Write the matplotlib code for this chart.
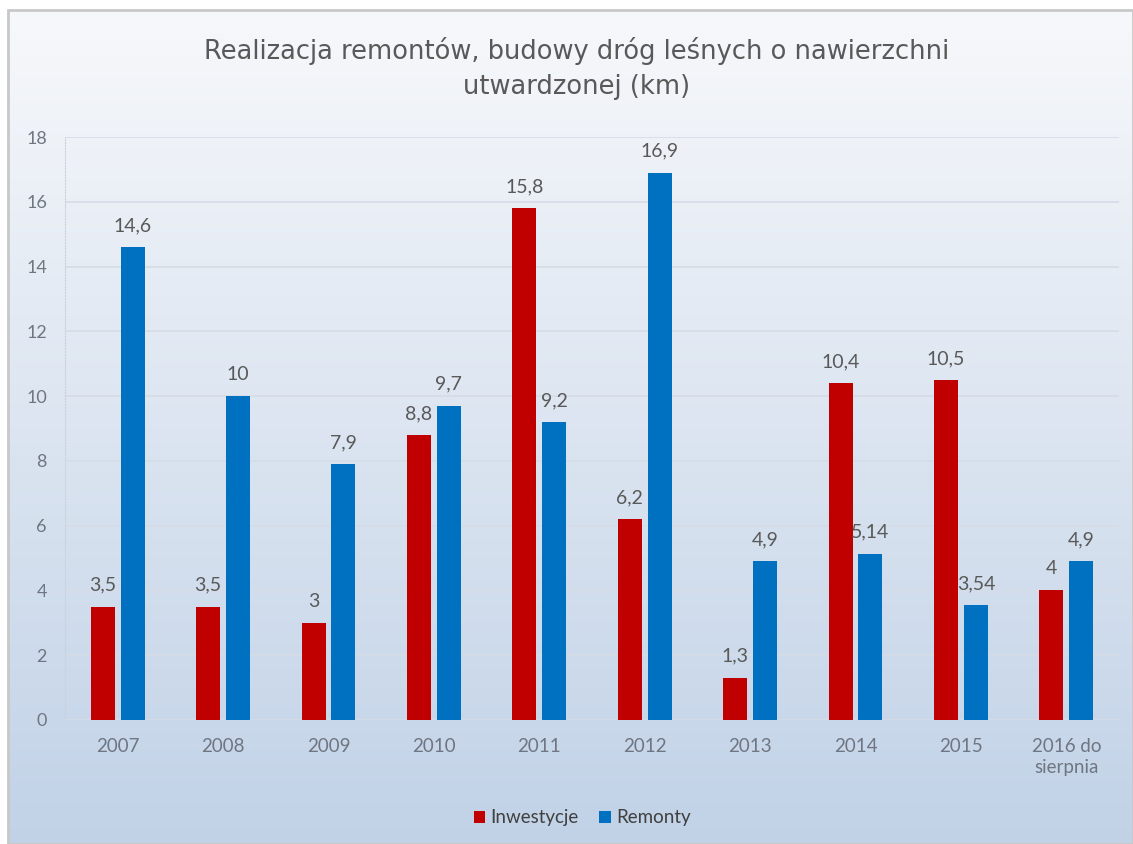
import numpy as np
import matplotlib
matplotlib.use("Agg")
import matplotlib.pyplot as plt
from matplotlib.patches import Rectangle

# data
categories = ["2007", "2008", "2009", "2010", "2011", "2012",
              "2013", "2014", "2015", "2016 do\nsierpnia"]
inwestycje = [3.5, 3.5, 3.0, 8.8, 15.8, 6.2, 1.3, 10.4, 10.5, 4.0]
remonty = [14.6, 10.0, 7.9, 9.7, 9.2, 16.9, 4.9, 5.14, 3.54, 4.9]
inwestycje_lbl = ["3,5", "3,5", "3", "8,8", "15,8", "6,2", "1,3", "10,4", "10,5", "4"]
remonty_lbl = ["14,6", "10", "7,9", "9,7", "9,2", "16,9", "4,9", "5,14", "3,54", "4,9"]
yticks = [0, 2, 4, 6, 8, 10, 12, 14, 16, 18]

plt.rcParams["font.family"] = ["Lato", "DejaVu Sans"]

W, H = 1133, 844
fig = plt.figure(figsize=(W / 100, H / 100), dpi=100)
fig.patch.set_facecolor("white")

# gradient chart background with a thin grey frame
bg = fig.add_axes([8 / W, 0, 1 - 8 / W, 1 - 10 / H], zorder=0)
top = np.array([247, 248, 251]) / 255
bot = np.array([193, 210, 231]) / 255
t = np.linspace(0, 1, 256)[:, None]
grad = top * (1 - t) + bot * t
bg.imshow(grad[:, None, :].repeat(2, axis=1), aspect="auto", extent=[0, 1, 0, 1])
bg.set_xlim(0, 1)
bg.set_ylim(0, 1)
bg.axis("off")
bg.add_patch(Rectangle((0, 0), 1, 1, transform=bg.transAxes, fill=False,
                       edgecolor="#C8C8C8", lw=2, clip_on=False))

ax = fig.add_axes([65 / W, (H - 720) / H, (1119 - 65) / W, (720 - 137) / H], zorder=1)
ax.set_facecolor("none")

x = np.arange(len(categories))
w = 0.228
off = 0.142
red = "#C00000"
blue = "#0070C0"
b1 = ax.bar(x - off, inwestycje, w, color=red, label="Inwestycje", zorder=3)
b2 = ax.bar(x + off, remonty, w, color=blue, label="Remonty", zorder=3)

txt = "#595959"
for xi, v, s in zip(x - off, inwestycje, inwestycje_lbl):
    ax.annotate(s, (xi, v), xytext=(0, 15.5), textcoords="offset points",
                ha="center", va="center", fontsize=14, color=txt, zorder=4)
for xi, v, s in zip(x + off, remonty, remonty_lbl):
    ax.annotate(s, (xi, v), xytext=(0, 15.5), textcoords="offset points",
                ha="center", va="center", fontsize=14, color=txt, zorder=4)

ax.set_xlim(-0.5, len(categories) - 0.5)
ax.set_ylim(0, 18)
ax.set_yticks(yticks)
ax.set_yticklabels([str(v) for v in yticks])
ax.set_xticks(x)
ax.set_xticklabels(categories, linespacing=1.25)
ax.tick_params(axis="both", length=0, labelsize=13, labelcolor="#6F7682")
ax.tick_params(axis="x", pad=13, labelsize=13.5)
ax.tick_params(axis="y", pad=13)
ax.grid(axis="y", color="#D5DCE6", lw=1.2, zorder=0)
for sp in ["top", "right", "bottom"]:
    ax.spines[sp].set_visible(False)
ax.spines["left"].set_color("#C9D1DC")
ax.spines["left"].set_linestyle(":")

fig.text(0.509, 1 - 51 / H, "Realizacja remontów, budowy dróg leśnych o nawierzchni",
         ha="center", va="center", fontsize=18.5, color="#595959", family="DejaVu Sans")
fig.text(0.509, 1 - 87 / H, "utwardzonej (km)",
         ha="center", va="center", fontsize=18.5, color="#595959", family="DejaVu Sans")

leg = fig.legend(handles=[b1, b2], loc="center", bbox_to_anchor=(0.514, 1 - 818 / H),
                 ncol=2, frameon=False, fontsize=13.5, handlelength=0.6, handleheight=0.6,
                 handletextpad=0.3, columnspacing=1.1)
for t_ in leg.get_texts():
    t_.set_color("#404040")

fig.savefig("out.png", dpi=100)
